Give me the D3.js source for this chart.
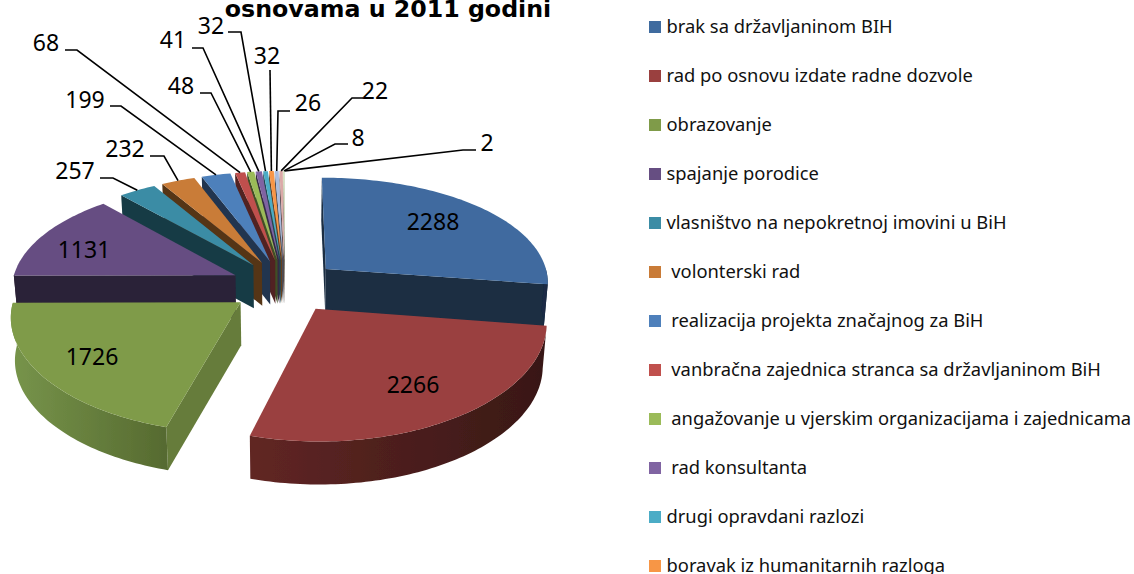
<!DOCTYPE html>
<html><head><meta charset="utf-8">
<script src="https://cdn.jsdelivr.net/npm/d3@7"></script>
<style>html,body{margin:0;padding:0;background:#fff;overflow:hidden}svg{display:block}text{white-space:pre}</style>
</head><body><svg id="c" width="1134" height="574"></svg>
<script>
const titleText = "osnovama u 2011 godini";
const values = [2288,2266,1726,1131,257,232,199,68,48,41,32,32,26,22,8,2];
const categories = ["brak sa državljaninom BIH","rad po osnovu izdate radne dozvole","obrazovanje","spajanje porodice","vlasništvo na nepokretnoj imovini u BiH"," volonterski rad"," realizacija projekta značajnog za BiH"," vanbračna zajednica stranca sa državljaninom BiH"," angažovanje u vjerskim organizacijama i zajednicama"," rad konsultanta","drugi opravdani razlozi","boravak iz humanitarnih razloga"];
const colors = ["#3f6b9f","#9a403f","#7f9b49","#664e82","#3b8ca5","#c97b37","#4e80bb","#c0504d","#9bbb59","#8064a2","#4bacc6","#f79646","#a9bcdd","#dba9a7","#c7d7a5","#b9abcd"];
const sideShade = [.42,.42,.8,.42,.42,.42,.42,.42,.42,.42,.42,.42,.42,.42,.42,.42];
// label layout: [label x, label y, elbow start x, elbow end x, elbow y] for outside labels
const outsideLabels = [null,null,null,null,
 [75,171,100,113,178],[125,149,150,164,156],[85,100,110,121,106],[46,43,65,77,50],
 [181,86,200,211,93],[173,40,192,203,48],[211,26,228,241,32],[267,56,270,270,70],
 [308,103,290,278,111],[375,91,363,352,98],[358,138,348,335,144],[487,143,476,463,150]];
const insideLabels = [[433,222],[413,385],[92,357],[84,250]];

const cx=285, cy=286, rx=224, ry=108, kx=.11, ky=.135, explode=.245, depth=43, converge=.985;
const svg=d3.select("#c");
const defs=svg.append("defs");
const shade=(c,f)=>{const r=d3.rgb(c);return d3.rgb(r.r*f,r.g*f,r.b*f).formatHex();};
const wallGrad=(id,x1,x2,a,b)=>{const g=defs.append("linearGradient").attr("id",id).attr("gradientUnits","userSpaceOnUse").attr("x1",x1).attr("x2",x2).attr("y1",0).attr("y2",0);
 g.append("stop").attr("offset",0).attr("stop-color",a);g.append("stop").attr("offset",1).attr("stop-color",b);return `url(#${id})`;};
const wallFill={0:"#1a2c44",1:wallGrad("wr",251,540,"#612624","#391816"),2:wallGrad("wg",16,167,"#76934a","#566a30")};
defs.append("filter").attr("id","soft").append("feGaussianBlur").attr("stdDeviation",.45);

const pie=d3.pie().sort(null).value(d=>d).startAngle(0).endAngle(2*Math.PI)(values);
const line=d3.line();
function proj(px,pz,lower){let X=rx*px/(1-kx*pz),Y=ry*pz/(1-ky*pz);
 if(lower){X*=converge;Y+=depth;} return [cx+X,cy+Y];}
const slices=pie.map((d,i)=>{const mid=(d.startAngle+d.endAngle)/2;
 const ox=explode*Math.sin(mid),oz=-explode*Math.cos(mid);
 const pt=(a,r,l)=>proj(ox+r*Math.sin(a),oz-r*Math.cos(a),l);
 const n=Math.max(2,Math.ceil((d.endAngle-d.startAngle)/.02));
 const arc=d3.range(n+1).map(j=>d.startAngle+(d.endAngle-d.startAngle)*j/n);
 return {i,d,mid,oz,pt,arc};});
const g=svg.append("g").attr("filter","url(#soft)");
slices.slice().sort((a,b)=>a.oz-b.oz).forEach(s=>{
 const {i,d,pt,arc}=s, c=colors[i], sc=shade(c,sideShade[i]);
 const A=pt(0,0,false),AL=pt(0,0,true);
 const S=pt(d.startAngle,1,false),SL=pt(d.startAngle,1,true),E=pt(d.endAngle,1,false),EL=pt(d.endAngle,1,true);
 if(S[0]<A[0]) g.append("path").attr("d",line([A,S,SL,AL])+"Z").attr("fill",sc);
 if(E[0]>A[0]) g.append("path").attr("d",line([A,E,EL,AL])+"Z").attr("fill",sc);
 const front=arc.filter(a=>a>=Math.PI/2-.02&&a<=3*Math.PI/2+.02);
 if(front.length>1){
  const top=front.map(a=>pt(a,1,false)),bot=front.map(a=>pt(a,1,true)).reverse();
  g.append("path").attr("d",line(top.concat(bot))+"Z").attr("fill",wallFill[i]||sc);
 }
 const poly=[A].concat(arc.map(a=>pt(a,1,false)));
 g.append("path").attr("d",line(poly)+"Z").attr("fill",c);
});
const labelFont="'Noto Sans',sans-serif";
// leaders
slices.forEach(s=>{const o=outsideLabels[s.i]; if(!o) return;
 const tip=s.pt(s.mid,1,false);
 svg.append("path").attr("d",line([[o[2],o[4]],[o[3],o[4]],tip])).attr("fill","none").attr("stroke","#000").attr("stroke-width",1.6);
 svg.append("text").attr("x",o[0]).attr("y",o[1]).attr("dy",".36em").attr("text-anchor","middle").attr("font-family",labelFont).attr("font-size",23).attr("fill","#000").text(values[s.i]);
});
insideLabels.forEach((o,i)=>svg.append("text").attr("x",o[0]).attr("y",o[1]).attr("dy",".36em").attr("text-anchor","middle").attr("font-family",labelFont).attr("font-size",23).attr("fill","#000").text(values[i]));
// title
svg.append("text").attr("x",388).attr("y",17).attr("text-anchor","middle").attr("font-family","'DejaVu Sans',sans-serif").attr("font-weight","bold").attr("font-size",23.7).attr("fill","#000").text(titleText);
// legend
const legendY=d3.scaleLinear().domain([0,11]).range([27,566]);
categories.forEach((t,i)=>{
 svg.append("rect").attr("x",649).attr("y",legendY(i)-6).attr("width",12).attr("height",12).attr("fill",colors[i]);
 svg.append("text").attr("x",666.5).attr("y",legendY(i)).attr("dy",".35em").attr("font-family","'Noto Sans',sans-serif").attr("font-size",18.35).attr("fill","#111").text(t);
});
</script></body></html>
